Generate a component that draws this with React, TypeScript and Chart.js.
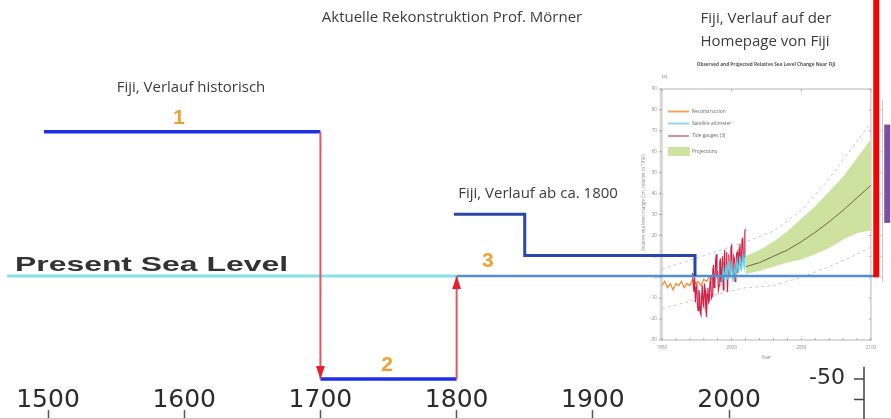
import { useEffect, useRef } from "react";
import { Chart, registerables } from "chart.js";

Chart.register(...registerables);

// ---------- main reconstruction (years / cm relative to present sea level) ----------
const xTickYears = [1500, 1600, 1700, 1800, 1900, 2000];
const historicYears = [1497, 1700];
const historicLevel = [70, 70];
const lowYears = [1700, 1800];
const lowLevel = [-50, -50];
const dropArrowYears = [1700, 1700];
const dropArrowLevel = [70, -50];
const riseArrowYears = [1800, 1800];
const riseArrowLevel = [-50, 0];
const presentYears = [1470, 1800];
const presentLevel = [0, 0];
const presentOnYears = [1800, 2109];
const presentOnLevel = [0, 0];
const fijiYears = [1798, 1850, 1850, 1975, 1975];
const fijiLevel = [30, 30, 10, 10, 0];
const rightAxisTicks = [-50, -60];
const rightAxisLabels = ["-50", ""];

// ---------- inset: Observed and Projected Relative Sea Level Change Near Fiji ----------
const insetXTicks = [1950, 2000, 2050, 2100];
const insetYTicks = [-30, -20, -10, 0, 10, 20, 30, 40, 50, 60, 70, 80, 90];
const reconYears = [1950, 1952, 1954, 1956, 1958, 1960, 1962, 1964, 1966, 1968, 1970, 1972, 1974, 1976, 1978, 1980, 1982, 1984, 1986];
const reconLevel = [-4, -2, -5, -3, -6, -3, -4, -2, -5, -3, -4, -1, -3, -2, -4, -1, -2, 0, -1];
const tideYears = [
  1972, 1972.5, 1973, 1973.5, 1974, 1974.5, 1975, 1975.5, 1976, 1976.5, 1977, 1977.5, 1978, 1978.5, 1979, 1979.5,
  1980, 1980.5, 1981, 1981.5, 1982, 1982.5, 1983, 1983.5, 1984, 1984.5, 1985, 1985.5, 1986, 1986.5, 1987, 1987.5,
  1988, 1988.5, 1989, 1989.5, 1990, 1990.5, 1991, 1991.5, 1992, 1992.5, 1993, 1993.5, 1994, 1994.5, 1995, 1995.5,
  1996, 1996.5, 1997, 1997.5, 1998, 1998.5, 1999, 1999.5, 2000, 2000.5, 2001, 2001.5, 2002, 2002.5, 2003, 2003.5,
  2004, 2004.5, 2005, 2005.5, 2006, 2006.5, 2007, 2007.5, 2008, 2008.5, 2009, 2009.5, 2010,
];
const tideLevel = [
  2, -4, -7, 0, -12, -5, -3, -14, -16, -6, -8, -17, -18, -9, -4, -13,
  -14, -3, -6, -15, -19, -8, -5, -12, -11, -2, 1, -10, -9, 3, 6, -5,
  -3, 8, 11, 0, 3, -6, -4, 7, 9, -2, 2, 10, -6, 4, 13, 1,
  5, 12, -7, 3, 11, 0, 4, 14, 15, 3, 1, 10, 9, -2, -1, 11,
  12, 2, 4, 14, 16, 5, 7, 18, 19, 8, 10, 22, 23,
];
const satYears = [1993, 1994, 1995, 1996, 1997, 1998, 1999, 2000, 2001, 2002, 2003, 2004, 2005, 2006, 2007, 2008, 2009, 2010];
const satLevel = [-3, 4, -2, 6, -1, 8, 1, 6, -2, 5, 1, 8, 2, 10, 3, 11, 5, 12];
const projYears = [2010, 2020, 2030, 2040, 2050, 2060, 2070, 2080, 2090, 2100];
const projUpper = [10, 13, 17, 22, 28, 34, 41, 48, 57, 66];
const projMid = [5, 7, 10, 13, 17, 21.5, 26.5, 32, 38, 44];
const projLower = [1.5, 3, 5, 7, 8.5, 11, 14, 18, 21, 22.5];
const rangeYears = [1950, 1970, 1990, 2010, 2030, 2050, 2070, 2090, 2100];
const rangeHigh = [4, 8, 12.5, 17, 22, 32, 47, 65, 74];
const rangeLow = [-15, -11.5, -8, -5, -4, 0, 5, 11, 14.5];
const endLineYears = [2103.8, 2103.8];
const endLineLevel = [0, 140];
const rangeBarYears = [2111.7, 2111.7];
const rangeBarLevel = [26, 73];
const legendLabels = ["Reconstruction", "Satellite altimeter", "Tide gauges (3)", "Projections"];
const legendColors = ["#f3a060", "#8fd8ee", "#e68aa0", "#cfe3a0"];

const pts = (xs: number[], ys: number[]) => xs.map((x, i) => ({ x, y: ys[i] }));

function series(label: string, xs: number[], ys: number[], color: string, width: number, order: number, extra: any = {}) {
  return {
    label,
    data: pts(xs, ys),
    borderColor: color,
    backgroundColor: color,
    borderWidth: width,
    showLine: true,
    pointRadius: 0,
    pointHoverRadius: 0,
    fill: false,
    tension: 0,
    order,
    xAxisID: "x",
    yAxisID: "y",
    ...extra,
  };
}
const inset = { xAxisID: "xi", yAxisID: "yi" };

const overlayPlugin = {
  id: "overlay",
  beforeDatasetsDraw(chart: any) {
    const ctx: CanvasRenderingContext2D = chart.ctx;
    const xi = chart.scales.xi;
    const yi = chart.scales.yi;
    const L = xi.getPixelForValue(insetXTicks[0]);
    const R = xi.getPixelForValue(insetXTicks[insetXTicks.length - 1]);
    const T = yi.getPixelForValue(insetYTicks[insetYTicks.length - 1]);
    const B = yi.getPixelForValue(insetYTicks[0]);
    ctx.save();
    ctx.strokeStyle = "#b5b5b5";
    ctx.lineWidth = 1;
    ctx.strokeRect(L, T, R - L, B - T);
    ctx.strokeStyle = "#d6d6d6";
    ctx.lineWidth = 1.5;
    ctx.beginPath();
    ctx.moveTo(L - 1.5, T);
    ctx.lineTo(L - 1.5, B);
    ctx.stroke();
    ctx.strokeStyle = "#999";
    ctx.lineWidth = 0.8;
    ctx.fillStyle = "#8a8a8a";
    ctx.font = '4.5px "Open Sans"';
    ctx.textAlign = "right";
    ctx.textBaseline = "middle";
    for (const v of insetYTicks) {
      const py = yi.getPixelForValue(v);
      ctx.beginPath();
      ctx.moveTo(L - 3, py);
      ctx.lineTo(L, py);
      ctx.moveTo(R, py);
      ctx.lineTo(R - 2, py);
      ctx.stroke();
      ctx.fillText(String(v), L - 5, py);
    }
    ctx.textAlign = "center";
    for (let yr = insetXTicks[0]; yr <= insetXTicks[insetXTicks.length - 1]; yr += 10) {
      const px = xi.getPixelForValue(yr);
      ctx.beginPath();
      ctx.moveTo(px, B);
      ctx.lineTo(px, B - 2);
      ctx.stroke();
    }
    for (const v of insetXTicks) {
      const px = xi.getPixelForValue(v);
      ctx.beginPath();
      ctx.moveTo(px, T);
      ctx.lineTo(px, T + 2.5);
      ctx.stroke();
      ctx.fillText(String(v), px, B + 8);
    }
    ctx.fillText("Year", (L + R) / 2, B + 18);
    ctx.save();
    ctx.translate(L - 18, (T + B) / 2 - 12);
    ctx.rotate(-Math.PI / 2);
    ctx.fillText("Relative sea level change (cm, relative to 1990)", 0, 0);
    ctx.restore();
    ctx.textAlign = "left";
    ctx.fillText("(a)", L, T - 12);
    // legend
    const lx = L + 6;
    const rows = [111.5, 123.5, 136, 151.5];
    legendLabels.forEach((lab, i) => {
      const ly = rows[i];
      if (i === 3) {
        ctx.fillStyle = legendColors[i];
        ctx.fillRect(lx, ly - 4.5, 22, 9);
      } else {
        ctx.strokeStyle = legendColors[i];
        ctx.lineWidth = 2;
        ctx.beginPath();
        ctx.moveTo(lx, ly);
        ctx.lineTo(lx + 21, ly);
        ctx.stroke();
      }
      ctx.fillStyle = "#666";
      ctx.font = '4.8px "Open Sans"';
      ctx.fillText(lab, lx + 24, ly);
    });
    // small side axis right of the inset
    ctx.strokeStyle = "#bbb";
    ctx.lineWidth = 0.8;
    const sx = xi.getPixelForValue(2108.3);
    ctx.beginPath();
    ctx.moveTo(sx, yi.getPixelForValue(85));
    ctx.lineTo(sx, yi.getPixelForValue(-2));
    for (const v of insetYTicks) {
      if (v < 0 || v > 80) continue;
      const py = yi.getPixelForValue(v);
      ctx.moveTo(sx - 2.5, py);
      ctx.lineTo(sx, py);
    }
    ctx.stroke();
    ctx.restore();
  },
  afterDatasetsDraw(chart: any) {
    const ctx: CanvasRenderingContext2D = chart.ctx;
    const x = chart.scales.x;
    const y = chart.scales.y;
    ctx.save();
    // arrowheads
    chart.data.datasets.forEach((ds: any, i: number) => {
      if (!ds.arrowHead) return;
      const meta = chart.getDatasetMeta(i);
      const n = meta.data.length;
      const a = meta.data[n - 2];
      const b = meta.data[n - 1];
      const ang = Math.atan2(b.y - a.y, b.x - a.x);
      const len = 13;
      const hw = 4.5;
      ctx.fillStyle = "#e8202c";
      ctx.beginPath();
      ctx.moveTo(b.x, b.y);
      ctx.lineTo(b.x - len * Math.cos(ang) + hw * Math.sin(ang), b.y - len * Math.sin(ang) - hw * Math.cos(ang));
      ctx.lineTo(b.x - len * Math.cos(ang) - hw * Math.sin(ang), b.y - len * Math.sin(ang) + hw * Math.cos(ang));
      ctx.closePath();
      ctx.fill();
    });
    const caption = (t: string, cx: number, cy: number, font: string, color: string) => {
      ctx.font = font;
      ctx.fillStyle = color;
      ctx.textAlign = "center";
      ctx.textBaseline = "middle";
      ctx.fillText(t, cx, cy);
    };
    const cap = '15px "Open Sans"';
    const capColor = "#3c3c3c";
    caption("Aktuelle Rekonstruktion Prof. Mörner", 452, 18, cap, capColor);
    caption("Fiji, Verlauf historisch", 191, 88, cap, capColor);
    caption("Fiji, Verlauf auf der", 766, 19, cap, capColor);
    caption("Homepage von Fiji", 765, 42, cap, capColor);
    caption("Observed and Projected Relative Sea Level Change Near Fiji", 766, 65, 'bold 4.7px "Open Sans"', "#555");
    caption("Fiji, Verlauf ab ca. 1800", 538, 194, cap, capColor);
    const num = 'bold 21px "Liberation Sans"';
    const orange = "#f2a033";
    caption("1", x.getPixelForValue(1596), y.getPixelForValue(historicLevel[0]) - 14, num, orange);
    caption("2", x.getPixelForValue(1749), y.getPixelForValue(lowLevel[0]) - 14, num, orange);
    caption("3", x.getPixelForValue(1823), y.getPixelForValue(presentLevel[0]) - 15, num, orange);
    // Present Sea Level (stretched)
    const psl = "Present Sea Level";
    ctx.font = 'bold 21px "Liberation Sans"';
    const w = ctx.measureText(psl).width;
    ctx.save();
    ctx.translate(15, 265);
    ctx.scale(273 / w, 1);
    ctx.textAlign = "left";
    ctx.textBaseline = "middle";
    ctx.fillStyle = "#333";
    ctx.fillText(psl, 0, 0);
    ctx.restore();
    // right axis fragment
    const ax = 864;
    ctx.strokeStyle = "#444";
    ctx.lineWidth = 1.5;
    ctx.beginPath();
    ctx.moveTo(ax, y.getPixelForValue(-44));
    ctx.lineTo(ax, chart.height);
    rightAxisTicks.forEach((v) => {
      const py = y.getPixelForValue(v);
      ctx.moveTo(ax - 10, py);
      ctx.lineTo(ax, py);
    });
    ctx.stroke();
    ctx.font = '22px "DejaVu Sans"';
    ctx.fillStyle = "#2b2b2b";
    ctx.textAlign = "right";
    ctx.textBaseline = "middle";
    rightAxisTicks.forEach((v, i) => {
      if (rightAxisLabels[i]) ctx.fillText(rightAxisLabels[i], 845, y.getPixelForValue(v) - 1);
    });
    ctx.restore();
  },
};

export default function App() {
  const ref = useRef<HTMLCanvasElement | null>(null);
  useEffect(() => {
    document.body.style.margin = "0";
    document.body.style.overflow = "hidden";
    const canvas = ref.current;
    if (!canvas) return;
    const datasets: any[] = [
      series("End marker", endLineYears, endLineLevel, "#ff0000", 6, 0, { ...inset, borderCapStyle: "butt" }),
      series("Range at 2100", rangeBarYears, rangeBarLevel, "#7b4ea0", 6, 1, { ...inset, borderCapStyle: "butt" }),
      series("Drop", dropArrowYears, dropArrowLevel, "#e8555f", 2, 2, { arrowHead: true }),
      series("Rise", riseArrowYears, riseArrowLevel, "#e8555f", 2, 2, { arrowHead: true }),
      series("Fiji historisch", historicYears, historicLevel, "#1f2fe6", 3.5, 3),
      series("Fiji 1700-1800", lowYears, lowLevel, "#1f2fe6", 3.5, 3),
      series("Fiji ab 1800", fijiYears, fijiLevel, "#2b46aa", 3, 4),
      series("Present Sea Level", presentYears, presentLevel, "#86e2e6", 3, 5),
      series("Present Sea Level (inset)", presentOnYears, presentOnLevel, "#4f8fd6", 2.5, 5),
      series("Satellite altimeter", satYears, satLevel, "#62cfe8", 1.3, 6, inset),
      series("Tide gauges (3)", tideYears, tideLevel, "#cc2448", 1.2, 7, inset),
      series("Reconstruction", reconYears, reconLevel, "#f08c3c", 1.3, 7, inset),
      series("Projection median", projYears, projMid, "#76644e", 1, 8, inset),
      series("Range high", rangeYears, rangeHigh, "#c8c8c8", 1, 9, { ...inset, borderDash: [3, 3] }),
      series("Range low", rangeYears, rangeLow, "#c8c8c8", 1, 9, { ...inset, borderDash: [3, 3] }),
      series("Projections upper", projYears, projUpper, "#cfe3a0", 0, 10, { ...inset, fill: "+1", backgroundColor: "#cde29e" }),
      series("Projections lower", projYears, projLower, "#cfe3a0", 0, 10, inset),
    ];
    const chart = new Chart(canvas, {
      type: "scatter",
      data: { datasets },
      options: {
        animation: false,
        responsive: false,
        events: [],
        layout: { padding: { left: 0, right: 0, top: 0, bottom: 1 } },
        plugins: { legend: { display: false }, tooltip: { enabled: false } },
        scales: {
          x: {
            type: "linear",
            position: "bottom",
            min: 1464.76,
            max: 2118.9,
            afterBuildTicks: (scale: any) => {
              scale.ticks = xTickYears.map((v) => ({ value: v }));
            },
            afterFit: (scale: any) => {
              scale.height = 0;
            },
            ticks: {
              autoSkip: false,
              maxRotation: 0,
              mirror: true,
              padding: 3,
              color: "#2b2b2b",
              font: { family: "DejaVu Sans", size: 25 },
              callback: (v: any) => String(v),
            },
            grid: { display: true, drawOnChartArea: false, drawTicks: true, tickLength: -8, tickColor: "#555", tickWidth: 1.5 },
            border: { display: true, color: "#c4c4c4", width: 1 },
          },
          y: { type: "linear", display: false, min: -68.93, max: 133.98 },
          xi: { type: "linear", display: false, position: "bottom", min: 1474.9, max: 2114.4 },
          yi: { type: "linear", display: false, position: "left", min: -67.29, max: 132.55 },
        },
      } as any,
      plugins: [overlayPlugin],
    });
    return () => chart.destroy();
  }, []);
  return (
    <div style={{ width: 891, height: 419, background: "#fff" }}>
      <canvas ref={ref} width={891} height={419} style={{ display: "block", width: 891, height: 419 }} />
    </div>
  );
}
